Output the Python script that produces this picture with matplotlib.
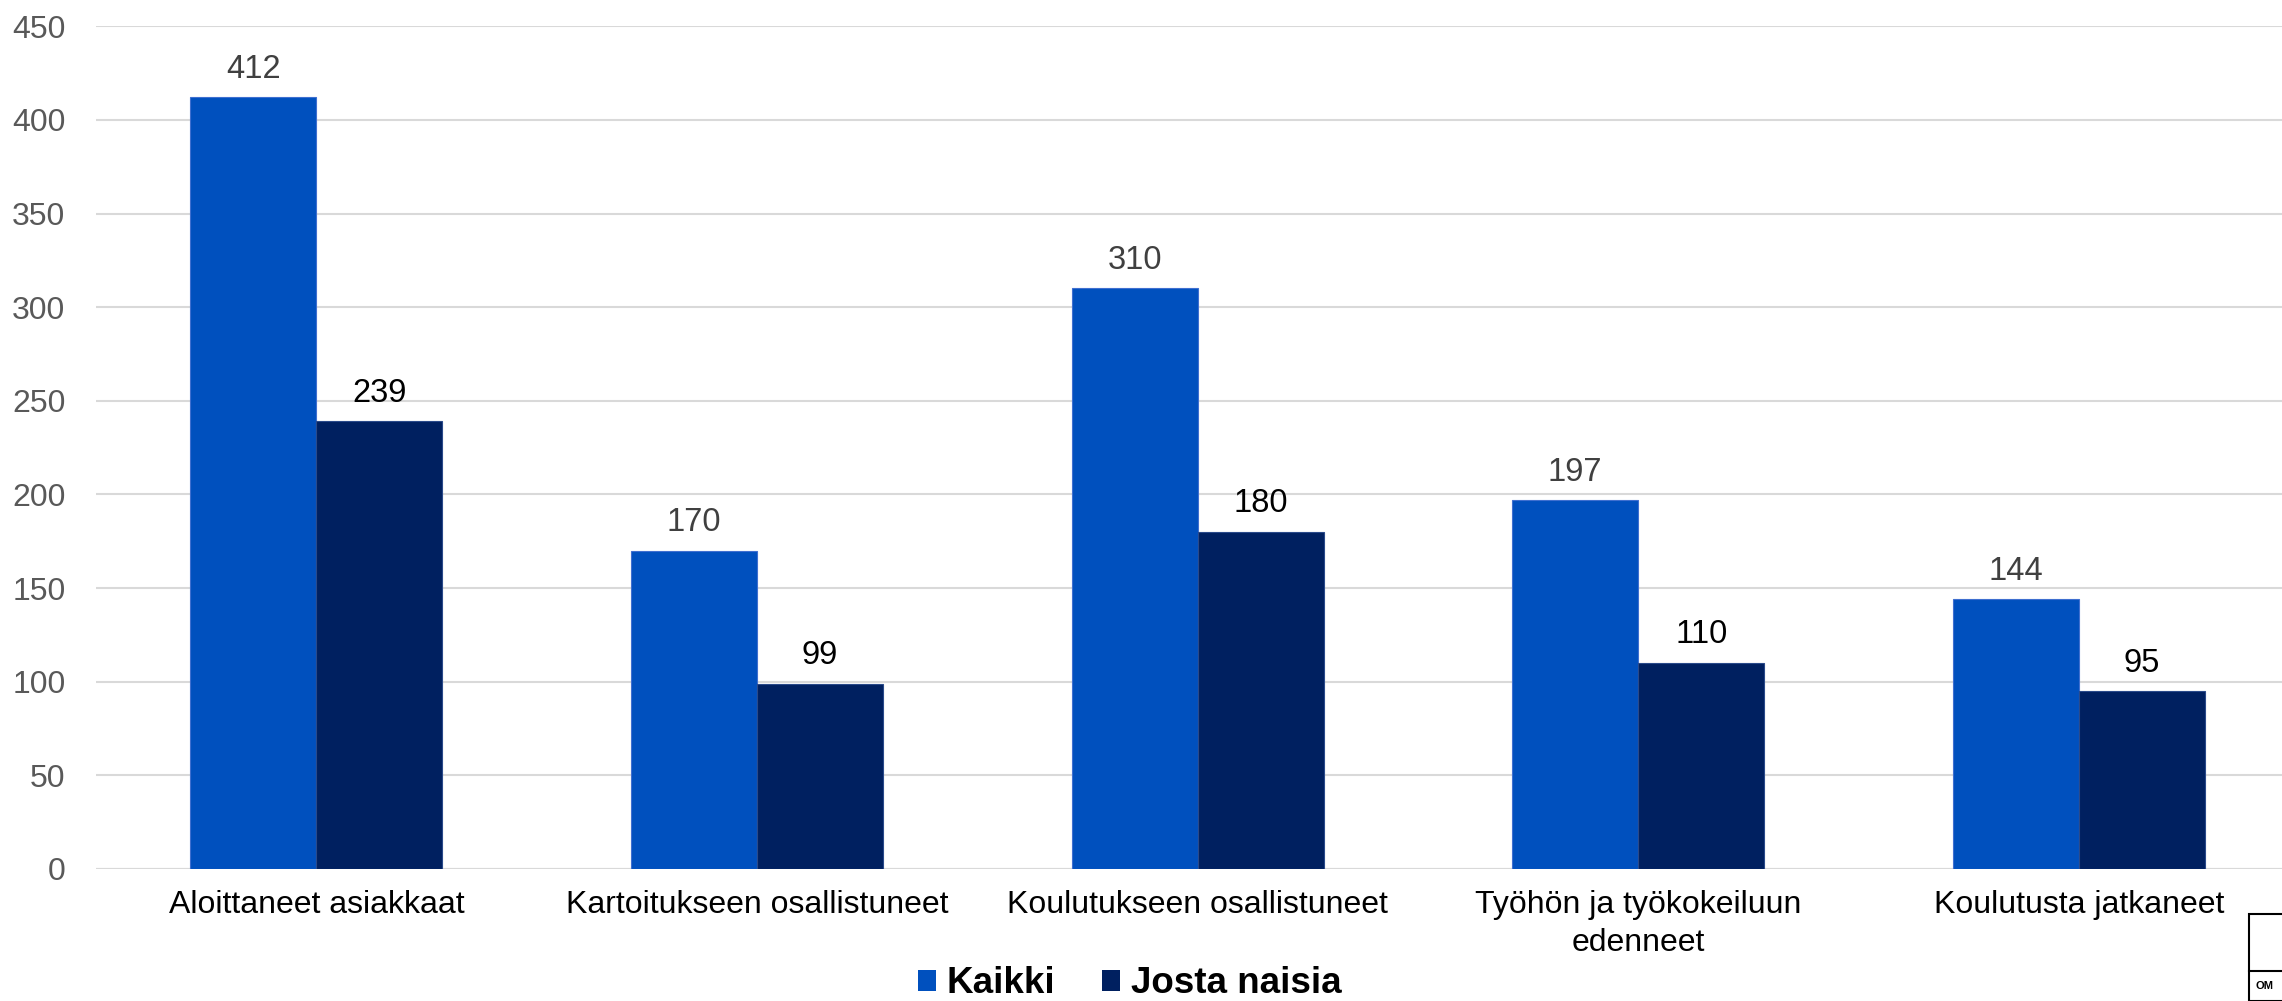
import matplotlib.pyplot as plt
import numpy as np
from matplotlib.patches import Patch, Rectangle

plt.rcParams['font.family'] = ['Liberation Sans', 'DejaVu Sans']

categories = ['Aloittaneet asiakkaat', 'Kartoitukseen osallistuneet',
              'Koulutukseen osallistuneet', 'Työhön ja työkokeiluun\nedenneet',
              'Koulutusta jatkaneet']
kaikki = [412, 170, 310, 197, 144]
naisia = [239, 99, 180, 110, 95]
series_names = ['Kaikki', 'Josta naisia']

c_kaikki = '#0050BE'
c_naisia = '#002060'

fig = plt.figure(figsize=(22.82, 10.01), dpi=100)
ax = fig.add_axes([0.0421, 0.1319, 0.9654, 0.8419])

x = np.arange(len(categories))
w = 0.286
b1 = ax.bar(x - w / 2, kaikki, w, color=c_kaikki, edgecolor='#3F6FD0', linewidth=0.8, zorder=3)
b2 = ax.bar(x + w / 2, naisia, w, color=c_naisia, edgecolor='#2A4A8A', linewidth=0.8, zorder=3)

# value labels
for bars, col in ((b1, '#404040'), (b2, '#000000')):
    for r in bars:
        ax.annotate(f'{int(r.get_height())}', (r.get_x() + r.get_width() / 2, r.get_height()),
                    xytext=(0, 9), textcoords='offset points', ha='center', va='bottom',
                    fontsize=23.5, color=col)

ax.set_xlim(-0.5, len(categories) - 0.5)
ax.set_ylim(0, 450)
ax.set_yticks(range(0, 451, 50))
ax.yaxis.grid(True, color='#D9D9D9', linewidth=1.5, zorder=0)
ax.set_axisbelow(True)
for s in ax.spines.values():
    s.set_visible(False)
ax.axhline(0, color='#D9D9D9', linewidth=1.5, zorder=1)

ax.set_xticks(x)
ax.set_xticklabels(categories, fontsize=23, color='#000000', linespacing=1.35)
ax.tick_params(axis='x', length=0, pad=15)
ax.tick_params(axis='y', length=0, pad=22, labelsize=23, labelcolor='#595959')

handles = [Patch(facecolor=c_kaikki), Patch(facecolor=c_naisia)]
fig.legend(handles, series_names, loc='center', bbox_to_anchor=(0.495, 0.017),
           ncol=2, frameon=False, prop={'weight': 'bold', 'size': 26.5},
           handlelength=0.5, handleheight=0.5, handletextpad=0.3, columnspacing=1.25)

# cut-off logo box in the corner
fig.patches.append(Rectangle((2249 / 2282, 0), 0.02, 87 / 1001, transform=fig.transFigure,
                             fill=False, edgecolor='black', linewidth=1.5))
fig.lines.append(plt.Line2D([2249 / 2282, 1], [30 / 1001, 30 / 1001], transform=fig.transFigure,
                            color='black', linewidth=1.5))
fig.text(2256 / 2282, 15 / 1001, 'OM', fontsize=8, fontweight='bold', va='center', ha='left')

fig.savefig('out.png', dpi=100)
